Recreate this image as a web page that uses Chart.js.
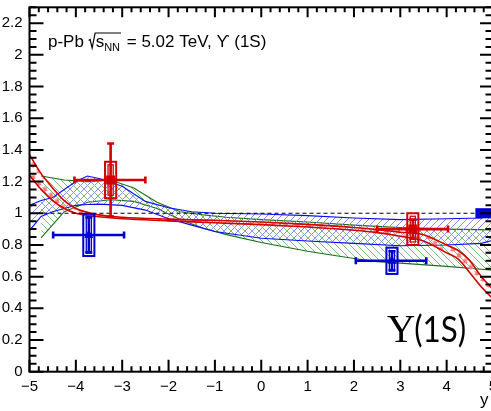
<!DOCTYPE html>
<html>
<head>
<meta charset="utf-8">
<script src="https://cdn.jsdelivr.net/npm/chart.js@4/dist/chart.umd.min.js"></script>
<style>
  html, body { margin: 0; padding: 0; background: #fff; overflow: hidden; }
  #wrap { width: 493px; height: 411px; }
</style>
</head>
<body>
<div id="wrap"><canvas id="raa"></canvas></div>
<script>
// axis ticks
const xTickValues = [-5, -4, -3, -2, -1, 0, 1, 2, 3, 4, 5];
const xTickLabels = ['\u22125', '\u22124', '\u22123', '\u22122', '\u22121', '0', '1', '2', '3', '4', '5'];
const yTickValues = [0, 0.2, 0.4, 0.6, 0.8, 1, 1.2, 1.4, 1.6, 1.8, 2, 2.2];
const yTickLabels = ['0', '0.2', '0.4', '0.6', '0.8', '1', '1.2', '1.4', '1.6', '1.8', '2', '2.2'];

// model band 1 (blue)
const blueX     = [-5, -4.75, -4.5, -4, -3.75, -3.5, -3, -2.5, -2, -1.5, -1, 0, 1, 2, 3, 4, 4.75, 5];
const blueUpper = [1.05, 1.08, 1.10, 1.20, 1.235, 1.22, 1.17, 1.075, 1.035, 1.01, 1.0, 0.995, 0.985, 0.97, 0.96, 0.965, 0.97, 0.99];
const blueLower = [0.89, 0.98, 1.01, 1.05, 1.055, 1.058, 1.05, 1.02, 0.965, 0.925, 0.885, 0.842, 0.825, 0.81, 0.795, 0.80, 0.81, 0.83];

// model band 2 (green)
const greenX     = [-4.75, -4.25, -3.75, -3.25, -2.75, -2.25, -1.75, -1.25, -0.75, 0, 1, 2, 2.5, 3, 4, 5];
const greenUpper = [1.235, 1.21, 1.20, 1.21, 1.16, 1.07, 1.01, 0.99, 0.975, 0.96, 0.945, 0.925, 0.917, 0.91, 0.90, 0.895];
const greenLower = [0.845, 1.01, 1.07, 1.085, 1.075, 1.03, 0.96, 0.905, 0.865, 0.815, 0.76, 0.715, 0.695, 0.685, 0.665, 0.64];

// model band 3 (red)
const redBandX  = [-5, -4.75, -4.5, -4.25, -4, -3.5, -3, -2, -1, 0, 1, 2, 2.5, 3, 3.5, 4, 4.25, 4.5, 4.75, 5];
const redUpper  = [1.37, 1.25, 1.16, 1.08, 1.03, 0.99, 0.975, 0.963, 0.955, 0.945, 0.93, 0.91, 0.897, 0.88, 0.865, 0.80, 0.765, 0.70, 0.60, 0.52];
const redLower  = [1.24, 1.15, 1.08, 1.03, 1.0, 0.978, 0.965, 0.952, 0.94, 0.928, 0.913, 0.893, 0.878, 0.855, 0.825, 0.75, 0.71, 0.625, 0.535, 0.46];

// measured points (red squares)
const redX     = [-3.25, 3.27];
const redY     = [1.21, 0.90];
const redXLow  = [-4.03, 2.50];
const redXHigh = [-2.50, 4.03];
const redStat  = [0.23, 0.06];
const redSys   = [0.115, 0.10];

// measured points (blue triangles)
const blueX2     = [-3.72, 2.82];
const blueY2     = [0.863, 0.70];
const blueXLow   = [-4.49, 2.04];
const blueXHigh  = [-2.96, 3.56];
const blueStat   = [0.11, 0.06];
const blueSys    = [0.133, 0.083];

// global normalisation uncertainty
const normX = [4.62, 5.0];
const normErr = 0.032;

const RED = '#d40000';
const BLUE = '#0000d0';
const FONT = '"Liberation Sans", Arial, sans-serif';

const canvas = document.getElementById('raa');
const cctx = canvas.getContext('2d');

function hatch(color, dir, step) {
  const c = document.createElement('canvas');
  c.width = c.height = step;
  const g = c.getContext('2d');
  g.strokeStyle = color;
  g.lineWidth = 1;
  g.beginPath();
  if (dir > 0) {
    g.moveTo(-1, step + 1); g.lineTo(step + 1, -1);
    g.moveTo(-1, 1); g.lineTo(1, -1);
    g.moveTo(step - 1, step + 1); g.lineTo(step + 1, step - 1);
  } else {
    g.moveTo(-1, -1); g.lineTo(step + 1, step + 1);
    g.moveTo(step - 1, -1); g.lineTo(step + 1, 1);
    g.moveTo(-1, step - 1); g.lineTo(1, step + 1);
  }
  g.stroke();
  return cctx.createPattern(c, 'repeat');
}

function stars(color, step) {
  const c = document.createElement('canvas');
  c.width = c.height = step;
  const g = c.getContext('2d');
  g.strokeStyle = color;
  g.lineWidth = 1.2;
  const r = 2.8;
  // two staggered asterisks per tile
  [[step * 0.25, step * 0.25], [step * 0.75, step * 0.75]].forEach(([cx, cy]) => {
    g.beginPath();
    for (let k = 0; k < 3; k++) {
      const a = k * Math.PI / 3 + Math.PI / 2;
      g.moveTo(cx - r * Math.cos(a), cy - r * Math.sin(a));
      g.lineTo(cx + r * Math.cos(a), cy + r * Math.sin(a));
    }
    g.stroke();
  });
  return cctx.createPattern(c, 'repeat');
}

const pts = (xs, ys) => xs.map((v, i) => ({ x: v, y: ys[i] }));

function bandLine(data, color, width, tension, order, fill, bg) {
  return {
    type: 'line',
    data,
    borderColor: color,
    borderWidth: width,
    pointRadius: 0,
    tension,
    cubicInterpolationMode: tension ? 'monotone' : 'default',
    fill: fill === undefined ? false : fill,
    backgroundColor: bg || 'transparent',
    order
  };
}

function drawPoints(ctx, x, y, xs, ys, xl, xh, st, sy, color, marker) {
  ctx.save();
  ctx.strokeStyle = color;
  ctx.fillStyle = color;
  for (let i = 0; i < xs.length; i++) {
    const px = x.getPixelForValue(xs[i]);
    const py = y.getPixelForValue(ys[i]);
    const hw = x.getPixelForValue(xs[i] + 0.12) - px;
    // systematic box (double outline)
    const bt = y.getPixelForValue(ys[i] + sy[i]);
    const bb = y.getPixelForValue(ys[i] - sy[i]);
    ctx.lineWidth = 2;
    ctx.strokeRect(px - hw, bt, 2 * hw, bb - bt);
    ctx.lineWidth = 1.3;
    ctx.strokeRect(px - hw + 3, bt + 3, 2 * hw - 6, bb - bt - 6);
    // x range
    const x0 = x.getPixelForValue(xl[i]);
    const x1 = x.getPixelForValue(xh[i]);
    ctx.lineWidth = 2.6;
    ctx.beginPath();
    ctx.moveTo(x0, py); ctx.lineTo(x1, py);
    ctx.moveTo(x0, py - 3.5); ctx.lineTo(x0, py + 3.5);
    ctx.moveTo(x1, py - 3.5); ctx.lineTo(x1, py + 3.5);
    // statistical error
    const st0 = y.getPixelForValue(ys[i] + st[i]);
    const st1 = y.getPixelForValue(ys[i] - st[i]);
    ctx.moveTo(px, st0); ctx.lineTo(px, st1);
    ctx.moveTo(px - 3.5, st0); ctx.lineTo(px + 3.5, st0);
    ctx.moveTo(px - 3.5, st1); ctx.lineTo(px + 3.5, st1);
    ctx.stroke();
    // marker
    ctx.beginPath();
    if (marker === 'rect') {
      ctx.rect(px - 4.5, py - 4.5, 9, 9);
    } else {
      ctx.moveTo(px, py - 5.5);
      ctx.lineTo(px + 4.5, py + 3);
      ctx.lineTo(px - 4.5, py + 3);
      ctx.closePath();
    }
    ctx.fill();
  }
  ctx.restore();
}

const decorations = {
  id: 'decorations',
  afterDatasetsDraw(chart) {
    const { ctx, chartArea: a, scales: { x, y } } = chart;

    ctx.save();
    ctx.beginPath();
    ctx.rect(a.left, a.top, a.right - a.left, a.bottom - a.top);
    ctx.clip();

    // unity reference line
    ctx.strokeStyle = '#000';
    ctx.lineWidth = 1.2;
    ctx.setLineDash([4, 3]);
    ctx.beginPath();
    ctx.moveTo(x.getPixelForValue(-5), y.getPixelForValue(1));
    ctx.lineTo(x.getPixelForValue(5), y.getPixelForValue(1));
    ctx.stroke();
    ctx.setLineDash([]);

    drawPoints(ctx, x, y, blueX2, blueY2, blueXLow, blueXHigh, blueStat, blueSys, BLUE, 'tri');
    drawPoints(ctx, x, y, redX, redY, redXLow, redXHigh, redStat, redSys, RED, 'rect');

    // normalisation box
    ctx.fillStyle = BLUE;
    const n0 = x.getPixelForValue(normX[0]);
    const n1 = x.getPixelForValue(normX[1]);
    const nt = y.getPixelForValue(1 + normErr);
    const nb = y.getPixelForValue(1 - normErr);
    ctx.fillRect(n0, nt, n1 - n0, nb - nt);
    ctx.restore();

    // frame and inward ticks
    ctx.save();
    ctx.strokeStyle = '#000';
    ctx.lineWidth = 2;
    ctx.strokeRect(a.left, a.top, a.right - a.left, a.bottom - a.top);
    ctx.beginPath();
    for (let k = 0; k <= 50; k++) {
      const v = -5 + k * 0.2;
      const px = x.getPixelForValue(v);
      const major = k % 5 === 0;
      ctx.moveTo(px, a.bottom); ctx.lineTo(px, a.bottom - (major ? 12 : 5.5));
      ctx.moveTo(px, a.top); ctx.lineTo(px, a.top + (major ? 10 : 5));
    }
    for (let k = 0; k <= 46; k++) {
      const v = k * 0.05;
      const py = y.getPixelForValue(v);
      const major = k % 4 === 0;
      ctx.moveTo(a.left, py); ctx.lineTo(a.left + (major ? 14 : 7), py);
      ctx.moveTo(a.right, py); ctx.lineTo(a.right - (major ? 13 : 7.5), py);
    }
    ctx.stroke();

    // header
    const HS = 17;
    ctx.fillStyle = '#000';
    ctx.textBaseline = 'alphabetic';
    ctx.font = HS + 'px ' + FONT;
    let tx = 48;
    const by = 46.5;
    ctx.fillText('p-Pb', tx, by);
    tx += ctx.measureText('p-Pb ').width;
    const sW = ctx.measureText('s').width;
    ctx.font = '11px ' + FONT;
    const nW = ctx.measureText('NN').width;
    const rEnd = tx + 7 + sW + nW + 1;
    ctx.lineWidth = 1.2;
    ctx.beginPath();
    ctx.moveTo(tx, by - 6);
    ctx.lineTo(tx + 1.5, by - 7);
    ctx.lineTo(tx + 3.5, by + 1.5);
    ctx.lineTo(tx + 6.5, by - 13.5);
    ctx.lineTo(rEnd, by - 13.5);
    ctx.stroke();
    ctx.font = HS + 'px ' + FONT;
    ctx.fillText('s', tx + 7, by);
    ctx.font = '11px ' + FONT;
    ctx.fillText('NN', tx + 7 + sW, by + 4);
    ctx.font = HS + 'px ' + FONT;
    ctx.fillText(' = 5.02 TeV, \u03D2 (1S)', rEnd + 1, by);

    // particle label
    ctx.font = '39px "Liberation Serif", serif';
    ctx.fillText('\u03A5', 387, 342);
    const uW = ctx.measureText('\u03A5').width;
    ctx.font = '37px Lato, "Open Sans", sans-serif';
    ctx.fillText('(1S)', 387 + uW - 1, 342, 52);

    // axis title
    ctx.font = '17px ' + FONT;
    ctx.fillText('y', 480, 405);
    ctx.restore();
  }
};

new Chart(canvas, {
  type: 'line',
  data: {
    datasets: [
      bandLine(pts(redBandX, redUpper), RED, 1.6, 0.4, 0),
      bandLine(pts(redBandX, redLower), RED, 1.6, 0.4, 0, 0, stars('#ff7a7a', 12)),
      bandLine(pts(blueX, blueUpper), '#0a0aff', 1.1, 0, 1),
      bandLine(pts(blueX, blueLower), '#0a0aff', 1.1, 0, 1, 2, hatch('#8c8cff', 1, 7)),
      bandLine(pts(greenX, greenUpper), '#187018', 1.1, 0, 1),
      bandLine(pts(greenX, greenLower), '#187018', 1.1, 0, 1, 4, hatch('#80c080', -1, 7))
    ]
  },
  options: {
    responsive: true,
    maintainAspectRatio: false,
    animation: false,
    events: [],
    layout: { padding: { top: 7.3, right: 0, left: 0, bottom: 0 } },
    plugins: {
      legend: { display: false },
      tooltip: { enabled: false }
    },
    scales: {
      x: {
        type: 'linear',
        min: -5,
        max: 5,
        grid: { display: false, drawTicks: false },
        border: { display: false },
        afterBuildTicks: (scale) => { scale.ticks = xTickValues.map(v => ({ value: v })); },
        afterFit: (scale) => { scale.height = 39.3; scale.paddingLeft = 0; scale.paddingRight = 0; },
        ticks: {
          color: '#000',
          font: { family: FONT, size: 15 },
          padding: 6,
          maxRotation: 0,
          autoSkip: false,
          callback: (value, i) => xTickLabels[i]
        }
      },
      y: {
        min: 0,
        max: 2.3,
        grid: { display: false, drawTicks: false },
        border: { display: false },
        afterBuildTicks: (scale) => { scale.ticks = yTickValues.map(v => ({ value: v })); },
        afterFit: (scale) => { scale.width = 29.5; scale.paddingTop = 0; scale.paddingBottom = 0; },
        ticks: {
          color: '#000',
          font: { family: FONT, size: 15 },
          padding: 7,
          autoSkip: false,
          callback: (value, i) => yTickLabels[i]
        }
      }
    }
  },
  plugins: [decorations]
});
</script>
</body>
</html>
